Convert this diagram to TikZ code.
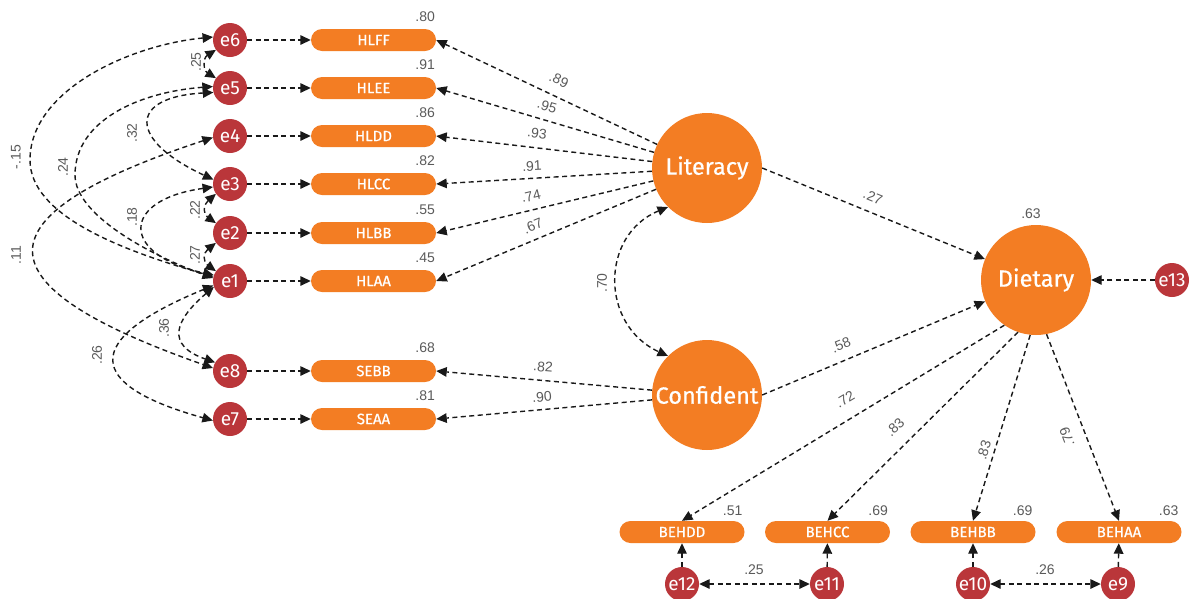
\documentclass[tikz,border=0pt]{standalone}
\usepackage{fontspec}
\setmainfont{Fira Sans}
\newfontfamily\numfont{Liberation Sans}
\newfontfamily\boxfont{Fira Sans}[FakeBold=0.6]
\usetikzlibrary{arrows.meta,calc}
\definecolor{ora}{RGB}{243,125,35}
\definecolor{erd}{RGB}{186,54,58}
\definecolor{lblgray}{RGB}{90,90,90}
\definecolor{ink}{RGB}{25,25,25}
\begin{document}
\begin{tikzpicture}[x=1pt,y=-1pt,
  obs/.style={fill=ora,rounded corners=11pt,minimum width=125pt,minimum height=22pt,inner sep=0pt,text=white,font=\boxfont\fontsize{15}{15}\selectfont},
  lat/.style={circle,fill=ora,minimum size=110pt,inner sep=0pt,text=white,font=\boxfont\fontsize{23.5}{23.5}\selectfont},
  err/.style={circle,fill=erd,minimum size=34pt,inner sep=0pt,text=white,font=\fontsize{19}{19}\selectfont},
  lbl/.style={text=lblgray,font=\numfont\fontsize{14}{14}\selectfont,inner sep=0pt},
  tip/.tip={Triangle[length=10.5pt,width=9.5pt]},
  conn/.style={draw=ink,line width=1.4pt,dash pattern=on 5pt off 3.5pt,-tip},
  cov/.style={draw=ink,line width=1.4pt,dash pattern=on 5pt off 3.5pt,tip-tip},
]
\useasboundingbox (0,0) rectangle (1190,598);

% error terms left
\node[err] (e6) at (230,40) {e6};
\node[err] (e5) at (230,88) {e5};
\node[err] (e4) at (230,136) {e4};
\node[err] (e3) at (230,184) {e3};
\node[err] (e2) at (230,233) {e2};
\node[err] (e1) at (230,281) {e1};
\node[err] (e8) at (230,371) {e8};
\node[err] (e7) at (230,419) {e7};

% observed boxes left
\node[obs] (HLFF) at (373.5,40) {HLFF};
\node[obs] (HLEE) at (373.5,88) {HLEE};
\node[obs] (HLDD) at (373.5,136) {HLDD};
\node[obs] (HLCC) at (373.5,184) {HLCC};
\node[obs] (HLBB) at (373.5,233) {HLBB};
\node[obs] (HLAA) at (373.5,281) {HLAA};
\node[obs] (SEBB) at (373.5,371) {SEBB};
\node[obs] (SEAA) at (373.5,419) {SEAA};

% latent
\node[lat] (Lit) at (707,168) {Literacy};
\node[lat] (Conf) at (707,395) {Confident};
\node[lat] (Diet) at (1036,280) {Dietary};
\node[err] (e13) at (1172,280) {e13};

% bottom boxes and errors
\node[obs] (BEHDD) at (682,532) {BEHDD};
\node[obs] (BEHCC) at (827.5,532) {BEHCC};
\node[obs] (BEHBB) at (973,532) {BEHBB};
\node[obs] (BEHAA) at (1119,532) {BEHAA};
\node[err] (e12) at (682,584) {e12};
\node[err] (e11) at (827,584) {e11};
\node[err] (e10) at (973,584) {e10};
\node[err] (e9) at (1118,584) {e9};

% R2 labels
\node[lbl] (r1) at ($(HLFF.north east)+(-11,-12)$) {.80};
\node[lbl] (r2) at ($(HLEE.north east)+(-11,-12)$) {.91};
\node[lbl] (r3) at ($(HLDD.north east)+(-11,-12)$) {.86};
\node[lbl] (r4) at ($(HLCC.north east)+(-11,-12)$) {.82};
\node[lbl] (r5) at ($(HLBB.north east)+(-11,-12)$) {.55};
\node[lbl] (r6) at ($(HLAA.north east)+(-11,-12)$) {.45};
\node[lbl] (r7) at ($(SEBB.north east)+(-11,-12)$) {.68};
\node[lbl] (r8) at ($(SEAA.north east)+(-11,-12)$) {.81};
\node[lbl] (r9) at ($(BEHDD.north east)+(-12,-10)$) {.51};
\node[lbl] (r10) at ($(BEHCC.north east)+(-12,-10)$) {.69};
\node[lbl] (r11) at ($(BEHBB.north east)+(-13,-10)$) {.69};
\node[lbl] (r12) at ($(BEHAA.north east)+(-13,-10)$) {.63};
\node[lbl] (r13) at (1031,214) {.63};

% error -> indicator
\draw[conn] (e6) -- (HLFF);
\draw[conn] (e5) -- (HLEE);
\draw[conn] (e4) -- (HLDD);
\draw[conn] (e3) -- (HLCC);
\draw[conn] (e2) -- (HLBB);
\draw[conn] (e1) -- (HLAA);
\draw[conn] (e8) -- (SEBB);
\draw[conn] (e7) -- (SEAA);

% loadings
\draw[conn] (Lit) -- (HLFF.east);
\draw[conn] (Lit) -- (HLEE.east);
\draw[conn] (Lit) -- (HLDD.east);
\draw[conn] (Lit) -- (HLCC.east);
\draw[conn] (Lit) -- (HLBB.east);
\draw[conn] (Lit) -- (HLAA.east);
\draw[conn] (Conf) -- (SEBB.east);
\draw[conn] (Conf) -- (SEAA.east);
\node[lbl,rotate=-25] (l1) at (559,80) {.89};
\node[lbl,rotate=-16] (l2) at (547,106) {.95};
\node[lbl,rotate=-7] (l3) at (537,133) {.93};
\node[lbl,rotate=3] (l4) at (532,166) {.91};
\node[lbl,rotate=13.5] (l5) at (531,196) {.74};
\node[lbl,rotate=22.5] (l6) at (533,226) {.67};
\node[lbl,rotate=-5] (l7) at (543,367) {.82};
\node[lbl,rotate=5] (l8) at (542,397) {.90};

% structural
\draw[conn] (Lit.east) -- (Diet);
\draw[conn] (Conf.east) -- (Diet);
\draw[conn] (e13) -- (Diet);
\node[lbl,rotate=-22] (l9) at (873,197) {.27};
\node[lbl,rotate=22] (l10) at (841,345) {.58};
\draw[cov] (Lit.225) .. controls (600,235) and (600,325) .. (Conf.135);
\node[lbl,rotate=90] (l11) at (602,283) {.70};

% dietary indicators
\draw[conn] (Diet.235.5) -- (BEHDD.north);
\draw[conn] (Diet.251.6) -- (BEHCC.north);
\draw[conn] (Diet.264) -- (BEHBB.north);
\draw[conn] (Diet.281.7) -- (BEHAA.north);
\node[lbl,rotate=31] (l12) at (845,399) {.72};
\node[lbl,rotate=44.5] (l13) at (895,427) {.83};
\node[lbl,rotate=73] (l14) at (984,450) {.83};
\node[lbl,rotate=110.7] (l15) at (1067,437) {.79};

% bottom errors
\draw[conn] (e12) -- (BEHDD);
\draw[conn] (e11) -- (BEHCC);
\draw[conn] (e10) -- (BEHBB);
\draw[conn] (e9) -- (BEHAA);
\draw[cov] (e12) -- (e11);
\draw[cov] (e10) -- (e9);
\node[lbl] (l16) at (754,570) {.25};
\node[lbl] (l17) at (1045,570) {.26};

% left covariances
\draw[cov] (e6.215) .. controls (203,58) and (203,70) .. (e5.145);
\draw[cov] (e5.195) .. controls (128,97) and (128,140) .. (e3.165);
\draw[cov] (e4.185) .. controls (-25,216) and (-24,285) .. (e8.170);
\draw[cov] (e6.170) .. controls (130,45) and (30,90) .. (30,160) .. controls (30,215) and (120,250) .. (e1.165);
\draw[cov] (e5.175) .. controls (140,92) and (75,120) .. (75,175) .. controls (75,215) and (150,255) .. (e1.170);
\draw[cov] (e3.190) .. controls (120,200) and (120,255) .. (e1.160);
\draw[cov] (e3.215) .. controls (203,205) and (203,214) .. (e2.145);
\draw[cov] (e2.215) .. controls (203,253) and (203,262) .. (e1.145);
\draw[cov] (e1.200) .. controls (175,320) and (165,345) .. (e8.150);
\draw[cov] (e1.195) .. controls (80,340) and (85,385) .. (e7.185);

\node[lbl,rotate=90] (c1) at (196,62) {.25};
\node[lbl,rotate=90] (c2) at (132,133) {.32};
\node[lbl,rotate=90] (c3) at (16,157) {-.15};
\node[lbl,rotate=90] (c4) at (63,167) {.24};
\node[lbl,rotate=90] (c5) at (16,255) {.11};
\node[lbl,rotate=90] (c6) at (132,217) {.18};
\node[lbl,rotate=90] (c7) at (195,210) {.22};
\node[lbl,rotate=90] (c8) at (195,255) {.27};
\node[lbl,rotate=90] (c9) at (164,328) {.36};
\node[lbl,rotate=90] (c10) at (97,355) {.26};
\end{tikzpicture}
\end{document}
